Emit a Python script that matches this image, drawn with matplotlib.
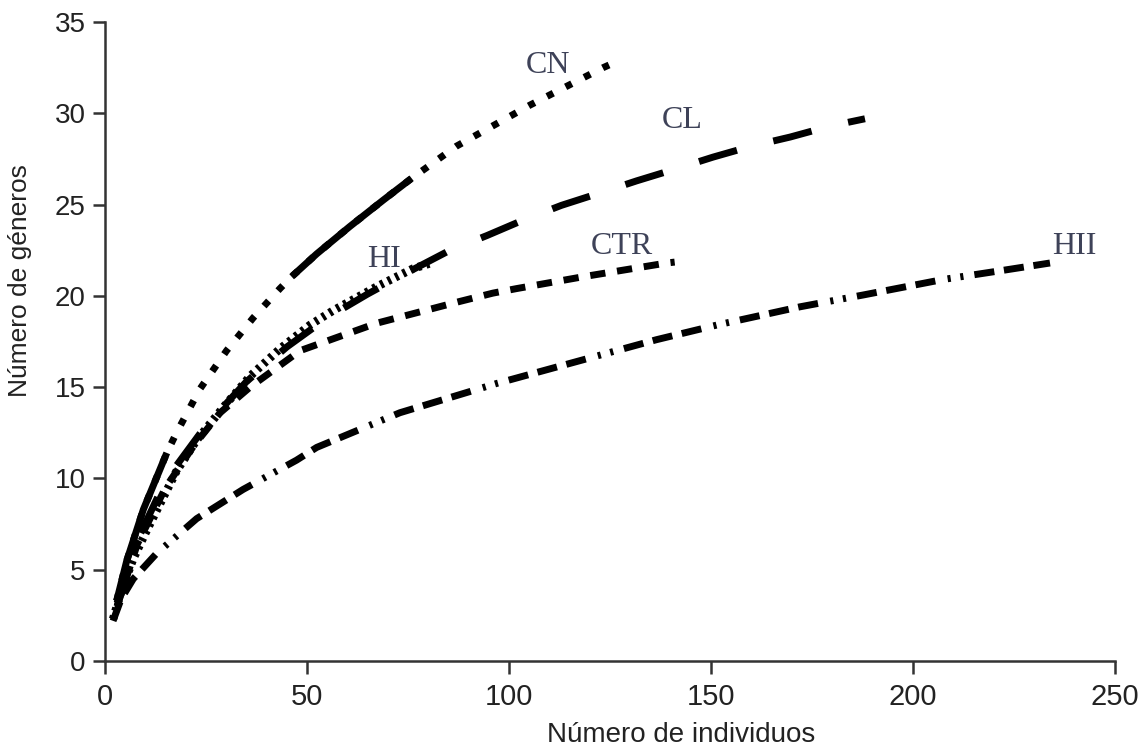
import matplotlib.pyplot as plt

# rarefaction curves
cn_x = [2.9, 5.4, 9.5, 15.3, 17.7, 23.5, 30.1, 36.7, 43.3, 46.2, 52.4, 60.6, 68.9, 75.9, 87, 105.2, 123.3, 125.8]
cn_y = [3.3, 5.5, 8.3, 11.4, 12.5, 14.9, 17.0, 18.8, 20.4, 21.05, 22.3, 23.8, 25.25, 26.44, 28.2, 30.45, 32.5, 32.75]

cl_x = [3, 8, 15, 25, 35, 45, 55, 65, 75, 85.4, 94.5, 103.5, 113, 122, 131.6, 141.5, 150.5, 160, 169.6, 179.5, 188.1]
cl_y = [3.0, 6.6, 9.9, 12.9, 15.3, 17.2, 18.8, 20.1, 21.3, 22.5, 23.3, 24.15, 24.96, 25.6, 26.3, 26.97, 27.6, 28.2, 28.7, 29.3, 29.7]

hi_x = [2, 4, 7, 10, 13.6, 17.7, 22.7, 29.3, 35.9, 43.3, 50.7, 56.5, 67.2, 76.3, 80.8]
hi_y = [2.3, 3.8, 5.6, 7.0, 8.6, 10.4, 12.1, 13.9, 15.6, 17.1, 18.4, 19.2, 20.5, 21.5, 21.8]

ctr_x = [3, 8, 15, 22, 28.5, 35.9, 48.3, 67.2, 87.9, 96, 101.9, 118.4, 139, 141]
ctr_y = [3.0, 6.4, 9.5, 11.8, 13.6, 15.0, 17.0, 18.5, 19.7, 20.15, 20.4, 21.05, 21.8, 21.85]

hii_x = [2, 4, 7, 12.8, 22.7, 34.2, 47.4, 52.4, 73, 96.9, 136.5, 151.4, 172, 187.7, 207.5, 222.3, 233.9]
hii_y = [2.2, 3.4, 4.5, 5.9, 7.8, 9.4, 11.0, 11.7, 13.6, 15.2, 17.6, 18.4, 19.4, 20.05, 20.9, 21.4, 21.8]

labels = ['CN', 'CL', 'HI', 'CTR', 'HII']
label_x = [109.7, 142.8, 69, 128, 240]
label_y = [32.6, 29.6, 22.0, 22.7, 22.7]

fig = plt.figure(figsize=(11.46, 7.51), dpi=100)
ax = fig.add_axes([0.0916, 0.1198, 0.8814, 0.8509])

lw = 5
ax.plot(hii_x, hii_y, color='black', lw=lw, solid_capstyle='butt', dash_capstyle='butt',
        dashes=(2.9, 1.4, 2.9, 1.4, 2.9, 1.8, 0.45, 1.4, 0.45, 1.6))
ax.plot(ctr_x, ctr_y, color='black', lw=lw, dash_capstyle='butt', dashes=(2.2, 1.7))
ax.plot(cl_x, cl_y, color='black', lw=lw, dash_capstyle='butt', dashes=(5.7, 5.4))
ax.plot(hi_x, hi_y, color='black', lw=lw + 1, dash_capstyle='butt', dashes=(0.4, 0.6))
ax.plot(cn_x, cn_y, color='black', lw=lw, dash_capstyle='butt', dashes=(1, 2))
# solid stretches where the curves sit on top of each other
ax.plot(cn_x[:4], cn_y[:4], color='black', lw=lw, solid_capstyle='butt')
ax.plot(cn_x[9:14], cn_y[9:14], color='black', lw=lw, solid_capstyle='butt')

for t, x, y in zip(labels, label_x, label_y):
    ax.text(x, y, t, family='Liberation Serif', fontsize=23, color='#3e4258',
            ha='center', va='center')

ax.set_xlim(0, 250)
ax.set_ylim(0, 35)
ax.set_xticks([0, 50, 100, 150, 200, 250])
ax.set_yticks([0, 5, 10, 15, 20, 25, 30, 35])
for s in ['top', 'right']:
    ax.spines[s].set_visible(False)
for s in ['left', 'bottom']:
    ax.spines[s].set_color('#333333')
    ax.spines[s].set_linewidth(1.8)
ax.tick_params(direction='out', length=9, width=1.8, color='#333333')
ax.tick_params(axis='y', labelsize=20, pad=5)
ax.tick_params(axis='x', labelsize=21, pad=7)
for lab in ax.get_xticklabels() + ax.get_yticklabels():
    lab.set_family('Liberation Sans')
    lab.set_color('#222222')

ax.set_xlabel('Número de individuos', family='Liberation Sans', fontsize=20, color='#222222')
ax.set_ylabel('Número de géneros', family='Liberation Sans', fontsize=19, color='#222222')
ax.xaxis.set_label_coords(0.57, -0.095)
ax.yaxis.set_label_coords(-0.072, 0.596)

fig.savefig('out.png', dpi=100)
